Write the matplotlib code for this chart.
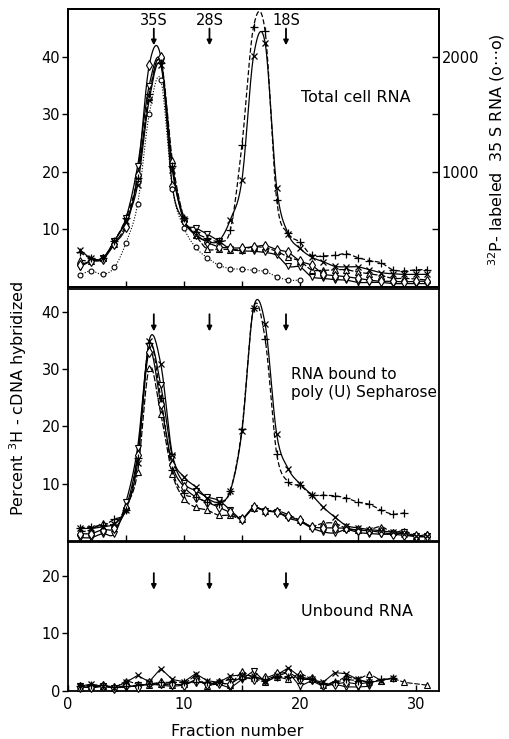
import numpy as np
import matplotlib
matplotlib.use("Agg")
import matplotlib.pyplot as plt
from matplotlib.ticker import FixedLocator, FixedFormatter, NullFormatter

plt.rcParams['font.family'] = ['DejaVu Sans']

# ---------------- data ----------------
frac = list(range(1, 32))

# Top panel: Total cell RNA (percent 3H-cDNA hybridized)
top_cross = [6.5, 5.0, 5.0, 8.0, 11.5, 17.7, 32.5, 38.5, 20.3, 11.8, 9.0, 8.0, 8.0, 11.7, 18.6,
             40.1, 42.4, 17.2, 9.2, 6.7, 5.2, 4.4, 3.6, 3.5, 3.5, 3.0, 2.5, 2.3, 2.2, 2.2, 2.2]
top_plus = [6.0, 5.0, 5.0, 8.0, 12.0, 19.0, 33.5, 39.0, 21.0, 12.0, 9.5, 8.5, 8.0, 9.9, 24.7,
            45.2, 44.4, 15.1, 9.3, 7.8, 5.5, 5.4, 5.5, 5.8, 5.1, 4.6, 4.2, 3.0, 2.8, 3.0, 3.0]
top_tri_up = [4.7, 4.5, 5.0, 7.5, 11.0, 19.0, 33.0, 39.5, 22.0, 12.0, 9.0, 6.6, 6.6, 6.5, 6.5,
              7.0, 6.8, 6.2, 5.2, 4.5, 3.0, 2.9, 3.0, 3.0, 2.6, 2.3, 2.0, 1.5, 1.5, 1.4, 1.2]
top_tri_down = [3.5, 4.5, 5.0, 8.0, 12.0, 21.0, 35.0, 39.2, 21.0, 11.5, 10.3, 9.2, 8.0, 6.6, 6.3,
                6.2, 6.0, 5.5, 3.6, 3.5, 1.8, 1.5, 1.3, 1.2, 0.8, 0.8, 0.8, 0.6, 0.6, 0.6, 0.6]
top_diamond = [3.8, 4.5, 4.8, 7.5, 10.5, 19.5, 38.5, 40.0, 17.5, 11.5, 9.2, 7.8, 7.0, 6.8, 6.8,
               7.0, 7.2, 6.5, 6.0, 4.5, 3.8, 2.3, 2.0, 1.8, 1.5, 1.2, 1.0, 1.0, 0.9, 1.0, 1.0]
# 32P-labeled 35S RNA (cpm, right axis)
p32_frac = list(range(1, 21))
p32_cpm = [105, 140, 110, 170, 385, 720, 1500, 1800, 855, 515, 345, 255, 190, 160, 155,
           145, 135, 90, 60, 60]

# Middle panel: RNA bound to poly(U) Sepharose
mid_cross = [2.2, 2.2, 2.5, 3.0, 5.5, 13.7, 35.0, 30.9, 15.1, 11.2, 9.5, 7.5, 6.8, 8.8, 19.2,
             40.7, 37.9, 18.6, 12.6, 10.0, 8.1, 5.9, 4.2, 2.7, 2.3, 2.0, 1.8, 1.5, 1.2, 0.8, 0.8]
mid_plus_frac = list(range(1, 30))
mid_plus = [2.3, 2.5, 2.8, 3.8, 5.4, 14.5, 34.5, 25.0, 12.4, 8.3, 7.7, 6.8, 6.5, 8.8, 19.6,
            40.7, 35.3, 15.2, 10.3, 9.7, 8.1, 8.0, 7.9, 7.5, 6.8, 6.4, 5.4, 4.7, 4.9]
mid_tri_up = [1.5, 2.0, 3.1, 3.0, 6.0, 12.0, 30.2, 22.2, 11.7, 7.4, 5.9, 5.4, 4.5, 4.5, 3.9,
              5.8, 5.3, 5.3, 4.6, 3.6, 2.6, 3.1, 3.1, 2.2, 1.9, 2.0, 2.5, 1.5, 1.8, 0.9, 1.2]
mid_tri_down = [0.6, 0.6, 1.3, 1.3, 6.8, 16.3, 34.1, 27.2, 14.7, 10.1, 8.8, 7.7, 7.1, 5.4, 3.9,
                5.7, 5.3, 5.1, 4.0, 3.4, 2.3, 1.6, 1.4, 2.0, 1.5, 1.3, 1.2, 1.2, 1.5, 0.8, 0.8]
mid_diamond = [1.3, 1.3, 2.0, 2.2, 5.8, 15.0, 33.0, 24.0, 13.2, 9.5, 7.7, 6.8, 5.9, 5.0, 3.9,
               5.9, 5.3, 5.0, 4.3, 3.6, 2.5, 2.3, 2.3, 2.2, 1.9, 1.8, 1.5, 1.2, 1.0, 0.8, 0.8]

# Bottom panel: Unbound RNA
bot_frac28 = list(range(1, 29))
bot_cross = [0.8, 1.2, 0.8, 0.6, 1.5, 2.7, 1.6, 3.9, 2.0, 1.6, 3.0, 1.8, 1.5, 2.6, 2.8,
             2.6, 1.8, 2.8, 4.0, 2.5, 2.0, 1.5, 3.2, 3.0, 2.0, 1.5, 1.8, 2.3]
bot_plus = [0.9, 1.0, 1.0, 0.7, 0.8, 1.0, 1.2, 1.5, 1.5, 1.5, 1.5, 1.5, 1.5, 2.0, 2.0,
            2.5, 2.0, 2.5, 2.5, 2.2, 2.0, 1.2, 1.5, 2.0, 1.8, 1.5, 2.0, 2.2]
bot_tri_up_frac = list(range(1, 30)) + [31]
bot_tri_up = [0.6, 0.8, 0.8, 0.5, 1.8, 1.2, 1.0, 1.2, 1.0, 1.2, 2.7, 0.8, 1.5, 1.0, 3.5,
              2.2, 1.5, 2.5, 2.0, 3.1, 2.1, 1.0, 1.5, 2.5, 2.0, 3.0, 1.8, 2.2, 1.5, 1.0]
bot_frac26 = list(range(1, 27))
bot_tri_down = [0.8, 0.5, 0.8, 0.6, 0.6, 1.0, 1.2, 1.0, 0.8, 1.0, 2.0, 1.0, 1.2, 0.5, 2.0,
                3.5, 1.6, 2.5, 3.3, 0.8, 1.8, 0.8, 1.2, 0.7, 0.7, 0.8]
bot_diamond = [0.7, 0.7, 0.9, 0.5, 1.0, 0.7, 1.3, 1.3, 1.2, 1.0, 1.8, 1.2, 1.4, 1.2, 2.5,
               2.0, 2.2, 3.0, 3.3, 2.0, 2.0, 1.0, 1.2, 1.5, 1.2, 1.5]

marker_fracs = [7.4, 12.2, 18.8]
marker_labels = ["35S", "28S", "18S"]

# ---------------- helpers ----------------
def smooth(x, y, n=16):
    x = np.asarray(x, float)
    y = np.asarray(y, float)
    m = np.empty_like(y)
    m[1:-1] = (y[2:] - y[:-2]) / (x[2:] - x[:-2])
    m[0] = (y[1] - y[0]) / (x[1] - x[0])
    m[-1] = (y[-1] - y[-2]) / (x[-1] - x[-2])
    xs, ys = [], []
    for i in range(len(x) - 1):
        h = x[i + 1] - x[i]
        t = np.linspace(0, 1, n, endpoint=False)
        h00 = 2 * t**3 - 3 * t**2 + 1
        h10 = t**3 - 2 * t**2 + t
        h01 = -2 * t**3 + 3 * t**2
        h11 = t**3 - t**2
        xs.append(x[i] + t * h)
        ys.append(h00 * y[i] + h10 * h * m[i] + h01 * y[i + 1] + h11 * h * m[i + 1])
    xs.append([x[-1]])
    ys.append([y[-1]])
    return np.concatenate(xs), np.concatenate(ys)

STY = {
    'cross':    dict(marker='x', ms=4.5, mew=0.9, ls='-'),
    'plus':     dict(marker='+', ms=5.5, mew=0.9, ls=(0, (4, 2))),
    'tri_up':   dict(marker='^', ms=5, mew=0.8, ls=(0, (5, 1.5))),
    'tri_down': dict(marker='v', ms=5, mew=0.8, ls='-'),
    'diamond':  dict(marker='d', ms=5, mew=0.8, ls='-'),
    'circle':   dict(marker='o', ms=3.5, mew=0.8, ls=(0, (1, 1.5))),
}

def draw(ax, x, y, kind, smooth_line=True, lw=0.9):
    s = STY[kind]
    if smooth_line:
        xs, ys = smooth(x, y)
    else:
        xs, ys = x, y
    ax.plot(xs, ys, color='k', lw=lw, ls=s['ls'], zorder=2)
    ax.plot(x, y, ls='none', marker=s['marker'], ms=s['ms'], mew=s['mew'],
            mfc='white', mec='k', zorder=3, clip_on=False)

def style_axes(ax, ymax, yticks):
    ax.set_xlim(0, 32)
    ax.set_ylim(0, ymax)
    for sp in ax.spines.values():
        sp.set_linewidth(1.3)
    ax.yaxis.set_major_locator(FixedLocator(yticks))
    ax.tick_params(axis='y', direction='out', length=4, width=1.0, labelsize=10.5, pad=1.5)
    ax.xaxis.set_major_locator(FixedLocator([5, 10, 15, 20, 25, 30]))
    ax.xaxis.set_major_formatter(NullFormatter())
    ax.tick_params(axis='x', direction='in', length=4, width=1.0)

def arrows(ax, y_tail, y_tip, labels=None, label_y=None):
    for i, f in enumerate(marker_fracs):
        ax.annotate('', xy=(f, y_tip), xytext=(f, y_tail),
                    arrowprops=dict(arrowstyle='-|>', color='k', lw=1.3,
                                    mutation_scale=7, shrinkA=0, shrinkB=0))
        if labels:
            ax.text(f, label_y, labels[i], ha='center', va='center', fontsize=10.5)

# ---------------- figure ----------------
fig = plt.figure(figsize=(5.09, 7.39), dpi=100)
ax1 = fig.add_axes([0.1336, 0.6116, 0.729, 0.3762])
ax2 = fig.add_axes([0.1336, 0.2679, 0.729, 0.3410])
ax3 = fig.add_axes([0.1336, 0.0650, 0.729, 0.2015])

# top
style_axes(ax1, 48.3, [10, 20, 30, 40])
draw(ax1, frac, top_tri_up, 'tri_up')
draw(ax1, frac, top_tri_down, 'tri_down')
draw(ax1, frac, top_diamond, 'diamond')
draw(ax1, frac, top_cross, 'cross')
draw(ax1, frac, top_plus, 'plus')
ax1r = ax1.twinx()
ax1r.set_ylim(0, 48.3 * 50)
ax1r.yaxis.set_major_locator(FixedLocator([500, 1000, 1500, 2000]))
ax1r.yaxis.set_major_formatter(FixedFormatter(['', '1000', '', '2000']))
ax1r.tick_params(axis='y', direction='in', length=5, width=1.0, labelsize=10.5, pad=2)
for sp in ax1r.spines.values():
    sp.set_linewidth(1.3)
draw(ax1r, p32_frac, p32_cpm, 'circle', lw=0.8)
ax1.text(20.1, 33, "Total cell RNA", fontsize=11.5, ha='left', va='center')
arrows(ax1, 44.9, 42.0, marker_labels, 46.3)

# middle
style_axes(ax2, 44.0, [10, 20, 30, 40])
draw(ax2, frac, mid_tri_up, 'tri_up')
draw(ax2, frac, mid_tri_down, 'tri_down')
draw(ax2, frac, mid_diamond, 'diamond')
draw(ax2, frac, mid_cross, 'cross')
draw(ax2, mid_plus_frac, mid_plus, 'plus')
ax2.text(19.2, 27.5, "RNA bound to\npoly (U) Sepharose", fontsize=11, ha='left',
         va='center', linespacing=1.3)
arrows(ax2, 39.6, 36.6)

# bottom
style_axes(ax3, 25.9, [0, 10, 20])
ax3.xaxis.set_major_locator(FixedLocator([0, 10, 20, 30]))
ax3.xaxis.set_major_formatter(FixedFormatter(['0', '10', '20', '30']))
ax3.xaxis.set_minor_locator(FixedLocator([5, 15, 25]))
ax3.tick_params(axis='x', which='both', direction='in', length=4, width=1.0,
                labelsize=10.5, pad=4)
draw(ax3, bot_tri_up_frac, bot_tri_up, 'tri_up', smooth_line=False, lw=0.8)
draw(ax3, bot_frac26, bot_tri_down, 'tri_down', smooth_line=False, lw=0.8)
draw(ax3, bot_frac26, bot_diamond, 'diamond', smooth_line=False, lw=0.8)
draw(ax3, bot_frac28, bot_plus, 'plus', smooth_line=False, lw=0.8)
draw(ax3, bot_frac28, bot_cross, 'cross', smooth_line=False, lw=0.8)
ax3.text(20.1, 13.9, "Unbound RNA", fontsize=11.5, ha='left', va='center')
arrows(ax3, 20.5, 17.6)

fig.text(237 / 509, 1 - 732 / 739, "Fraction number", ha='center', va='center', fontsize=11.5)
fig.text(18 / 509, 1 - 398 / 739, r"Percent $^{3}$H - cDNA hybridized", rotation=90,
         ha='center', va='center', fontsize=11.5)
fig.text(497 / 509, 1 - 150 / 739, r"$^{32}$P- labeled  35 S RNA (o$\cdots$o)", rotation=90,
         ha='center', va='center', fontsize=11.5)

fig.savefig("out.png", dpi=100)
